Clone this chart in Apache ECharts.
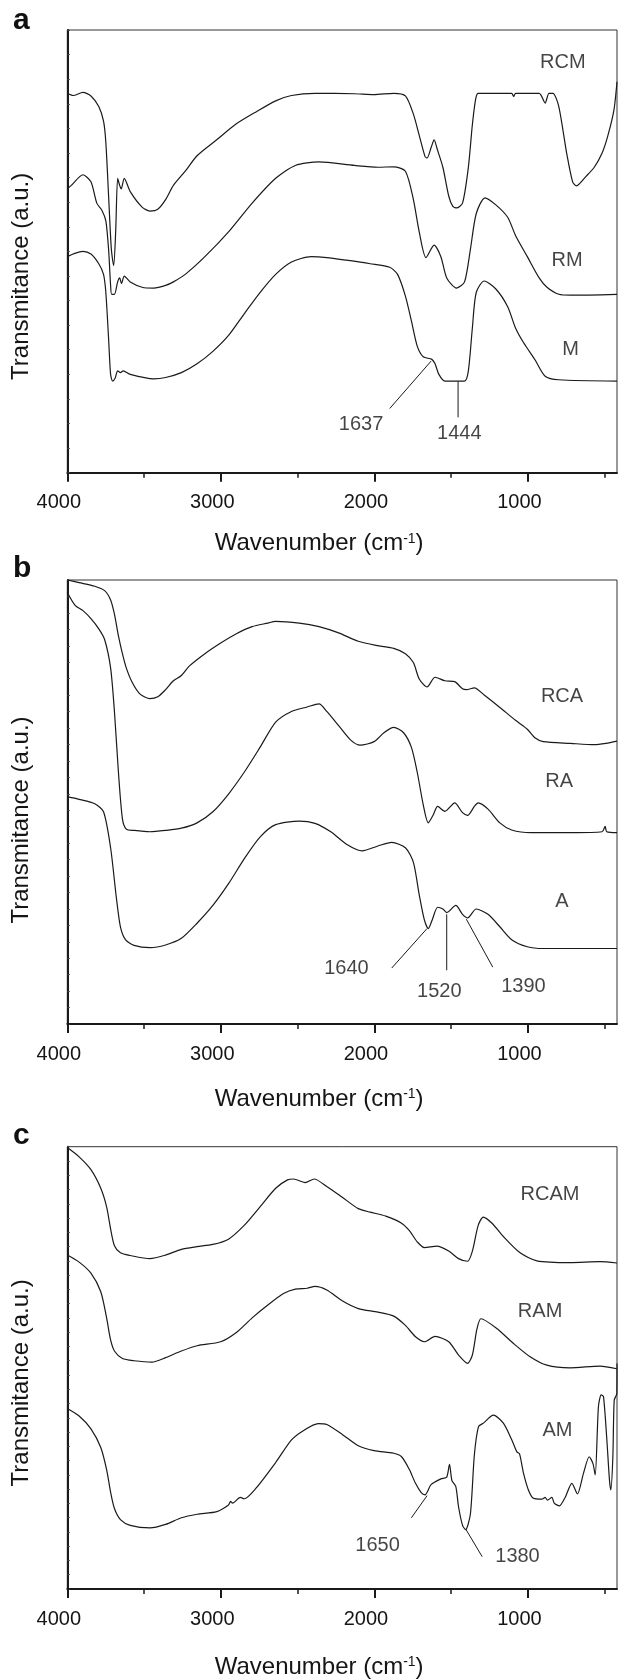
<!DOCTYPE html>
<html><head><meta charset="utf-8">
<script src="https://cdn.jsdelivr.net/npm/echarts@6/dist/echarts.min.js"></script>
<style>html,body{margin:0;padding:0;background:#fff}#c{width:619px;height:1680px}</style>
</head><body><div id="c"></div><script>
const FONT = '"Liberation Sans", Arial, Helvetica, sans-serif';
const xMajorTicks = [1000, 2000, 3000, 4000];
const xMinorTicks = [500, 1500, 2500, 3500];
const xMin = 420, xMax = 4000;
const panelLetters = ['a', 'b', 'c'];
const xTitle = 'Wavenumber (cm{sup|-1})';
const yTitle = 'Transmitance (a.u.)';

// ---- panel a : [wavenumber, transmittance (a.u., 0-100 of frame)] ----
const RCM = [[4000,85.7],[3962,85.2],[3898,85.9],[3846,85.1],[3795,82.7],[3764,79.4],[3749,74.6],[3731,62.5],[3713,50.4],[3698,46.8],[3685,54.4],[3672,66.5],[3659,64.9],[3649,64.1],[3629,66.5],[3590,63.5],[3513,60.0],[3462,59.1],[3411,59.5],[3360,61.7],[3309,64.9],[3232,68.1],[3155,71.6],[3027,75.2],[2899,78.8],[2771,81.5],[2643,84.0],[2540,85.2],[2387,85.7],[2130,85.6],[2002,85.4],[1874,85.7],[1798,85.1],[1746,81.0],[1708,76.2],[1670,71.4],[1657,71.1],[1630,73.5],[1611,75.2],[1590,73.0],[1554,69.0],[1516,62.5],[1490,60.2],[1465,59.8],[1426,60.9],[1388,69.0],[1362,78.6],[1340,84.5],[1324,85.7],[1106,85.7],[1093,85.0],[1080,85.7],[927,85.7],[888,83.5],[863,85.7],[837,85.7],[799,82.7],[748,72.2],[709,65.7],[684,64.8],[620,67.0],[568,69.0],[517,72.2],[479,76.2],[440,81.9],[420,88.3]];
const RM = [[4000,64.1],[3974,64.9],[3898,67.3],[3846,65.7],[3808,60.9],[3775,59.3],[3749,56.9],[3731,50.4],[3718,42.3],[3711,40.3],[3693,40.3],[3672,43.1],[3659,44.0],[3647,42.7],[3629,44.4],[3590,43.1],[3513,41.9],[3437,41.7],[3360,42.3],[3309,43.1],[3232,44.8],[3104,48.8],[2950,54.4],[2796,60.9],[2643,66.5],[2515,69.4],[2361,70.2],[2130,69.4],[1977,69.0],[1874,69.1],[1798,68.1],[1746,61.7],[1708,54.4],[1664,48.6],[1611,51.4],[1567,48.8],[1529,44.0],[1465,41.7],[1413,43.1],[1375,50.4],[1337,58.5],[1280,62.1],[1209,60.5],[1132,57.7],[1081,53.6],[1004,48.8],[927,44.0],[876,41.9],[799,40.3],[722,40.1],[420,40.3]];
const M = [[4000,48.8],[3962,49.4],[3898,50.0],[3846,49.4],[3795,47.2],[3764,44.8],[3749,40.7],[3731,30.2],[3718,22.2],[3705,20.7],[3688,21.4],[3672,23.0],[3654,22.6],[3636,23.0],[3590,22.2],[3437,21.2],[3360,21.5],[3257,22.6],[3155,24.6],[3052,27.4],[2950,31.0],[2848,35.9],[2745,40.7],[2643,44.8],[2540,47.6],[2412,48.8],[2310,48.6],[2182,48.0],[2028,47.2],[1900,46.4],[1849,44.8],[1798,39.9],[1759,34.3],[1721,28.6],[1682,26.2],[1626,25.6],[1605,24.6],[1580,22.2],[1541,20.7],[1413,20.7],[1388,23.0],[1362,32.7],[1337,40.7],[1285,43.3],[1209,41.5],[1132,37.5],[1081,32.7],[1029,29.4],[952,25.4],[888,21.8],[799,21.0],[420,20.7]];
const namesA = [[773,92.7,'RCM'],[745,48.0,'RM'],[722,27.8,'M']];
const peaksA = [[2087,11.0,'1637'],[1447,8.9,'1444']];
const leadersA = [[[1900,14.5],[1631,25.2]],[[1455,20.6],[1455,12.5]]];

// ---- panel b ----
const RCA = [[4000,100],[3923,99.4],[3821,98.6],[3757,97.6],[3718,95.5],[3693,92.3],[3667,87.4],[3641,83.4],[3616,80.2],[3577,76.9],[3526,74.3],[3462,73.3],[3411,73.7],[3360,75.3],[3309,77.3],[3257,78.5],[3206,80.6],[3104,83.4],[3001,85.8],[2899,87.9],[2796,89.5],[2694,90.3],[2643,90.7],[2489,90.3],[2361,89.5],[2233,88.1],[2105,86.2],[1977,85.2],[1874,84.6],[1798,83.4],[1746,81.4],[1708,77.7],[1657,75.9],[1605,78.1],[1541,77.3],[1477,77.1],[1426,75.5],[1401,75.3],[1349,75.7],[1285,74.1],[1183,71.3],[1081,68.4],[1004,66.4],[952,64.4],[901,63.6],[722,63.2],[568,62.9],[492,63.2],[420,63.7]];
const RA = [[4000,97.2],[3949,94.3],[3898,93.1],[3846,91.3],[3795,89.0],[3757,86.6],[3718,80.2],[3693,70.4],[3667,56.7],[3641,46.2],[3616,43.9],[3565,43.6],[3462,43.3],[3360,43.6],[3257,44.1],[3155,45.3],[3052,47.8],[2950,51.8],[2848,56.7],[2745,62.3],[2643,68.0],[2540,70.4],[2438,71.4],[2361,72.1],[2310,70.4],[2233,67.2],[2156,64.0],[2092,62.8],[2002,63.6],[1938,65.6],[1874,66.8],[1810,65.6],[1759,62.3],[1721,56.7],[1682,49.4],[1649,45.3],[1618,47.0],[1588,49.0],[1541,47.9],[1477,49.8],[1426,47.6],[1393,47.0],[1349,49.0],[1324,49.8],[1260,48.4],[1183,45.3],[1106,43.7],[978,43.1],[722,43.1],[517,43.3],[497,44.5],[487,43.3],[420,43.1]];
const A = [[4000,51.2],[3923,50.6],[3821,49.6],[3764,47.8],[3718,39.7],[3680,28.3],[3654,21.9],[3621,19.0],[3565,17.7],[3462,17.2],[3360,17.8],[3257,19.3],[3155,22.7],[3052,26.7],[2950,31.6],[2848,37.2],[2745,42.1],[2643,44.9],[2489,45.7],[2387,45.2],[2284,43.3],[2182,40.5],[2079,39.0],[1977,40.1],[1887,40.9],[1798,39.7],[1746,36.4],[1708,29.1],[1675,23.5],[1649,21.5],[1623,23.5],[1588,26.3],[1554,25.9],[1529,25.1],[1470,26.7],[1426,24.7],[1393,23.9],[1337,25.9],[1260,24.7],[1183,21.9],[1106,19.0],[1004,17.4],[901,17.0],[420,17.0]];
const namesB = [[778,73.7,'RCA'],[796,54.7,'RA'],[778,27.5,'A']];
const peaksB = [[2182,12.6,'1640'],[1577,7.3,'1520'],[1029,8.5,'1390']];
const leadersB = [[[1887,12.6],[1657,21.5]],[[1529,24.7],[1529,12.1]],[[1401,23.6],[1229,12.8]]];

// ---- panel c ----
const RCAM = [[4000,99.8],[3923,97.7],[3846,94.8],[3782,90.6],[3744,86.4],[3718,81.4],[3693,77.6],[3654,76.0],[3590,75.4],[3462,74.7],[3360,75.5],[3257,76.8],[3155,77.4],[3052,77.9],[2950,79.1],[2848,82.2],[2745,86.4],[2643,90.6],[2566,92.5],[2527,92.7],[2451,91.9],[2392,92.7],[2310,91.0],[2207,88.5],[2105,86.0],[2028,85.2],[1926,84.3],[1823,82.7],[1772,81.0],[1721,78.5],[1675,77.2],[1593,77.5],[1516,76.4],[1452,74.7],[1393,74.1],[1362,76.4],[1324,82.2],[1291,84.1],[1234,82.7],[1160,79.7],[1051,76.0],[942,74.2],[725,73.8],[530,74.0],[420,73.7]];
const RAM = [[4000,75.5],[3923,73.9],[3846,71.4],[3782,67.2],[3744,61.3],[3718,56.3],[3693,53.8],[3641,52.1],[3565,51.6],[3449,51.3],[3360,52.3],[3257,53.8],[3155,55.0],[3001,55.9],[2899,58.0],[2796,61.3],[2694,64.2],[2592,66.8],[2515,67.8],[2438,68.0],[2387,68.4],[2310,67.6],[2207,65.1],[2105,63.4],[1977,62.6],[1874,61.7],[1798,59.6],[1734,57.1],[1675,55.9],[1605,57.1],[1516,55.9],[1452,52.9],[1393,51.0],[1362,52.9],[1332,58.8],[1306,61.1],[1203,58.9],[1094,55.5],[986,52.5],[877,50.6],[725,50.0],[530,50.4],[421,49.8]];
const AM = [[4000,40.8],[3923,39.1],[3846,36.2],[3782,32.0],[3744,27.0],[3718,21.9],[3693,18.2],[3654,15.7],[3590,14.4],[3462,13.8],[3360,14.6],[3257,16.1],[3155,16.9],[3027,17.5],[2950,19.0],[2937,19.8],[2924,19.4],[2873,20.7],[2848,20.4],[2771,22.8],[2643,28.6],[2540,33.7],[2463,35.8],[2366,37.4],[2310,37.2],[2207,34.9],[2105,32.4],[2002,31.3],[1874,30.7],[1823,29.9],[1772,27.0],[1734,24.0],[1695,21.8],[1670,21.3],[1631,23.6],[1567,24.9],[1529,25.3],[1511,28.2],[1495,24.5],[1470,23.2],[1452,18.6],[1426,14.4],[1406,13.4],[1375,16.9],[1349,30.3],[1322,36.7],[1290,37.5],[1225,39.3],[1160,37.5],[1105,33.7],[1072,31.0],[1055,30.6],[1029,26.2],[997,22.4],[964,20.5],[909,20.3],[888,20.7],[873,20.1],[844,20.7],[829,19.4],[795,18.8],[758,20.7],[714,23.9],[678,21.5],[638,26.2],[601,29.9],[577,28.4],[562,25.8],[541,41.2],[523,43.9],[508,43.5],[486,33.7],[469,24.6],[460,22.4],[447,29.9],[438,42.7],[421,44.2],[420,51.0]];
const namesC = [[856,89.1,'RCAM'],[921,62.7,'RAM'],[808,35.9,'AM']];
const peaksC = [[1979,9.8,'1650'],[1068,7.3,'1380']];
const leadersC = [[[1759,16.1],[1657,21.1]],[[1406,13.6],[1298,7.3]]];

const panels = [
  {top: 30, height: 442.7, ticks: 18, curves: [RCM, RM, M], names: namesA, peaks: peaksA, leaders: leadersA, gap: 59, yShift: 25, letterTop: 6},
  {top: 580, height: 444, ticks: 27, curves: [RCA, RA, A], names: namesB, peaks: peaksB, leaders: leadersB, gap: 63, yShift: 18, letterTop: 554},
  {top: 1146.7, height: 442.3, ticks: 31, curves: [RCAM, RAM, AM], names: namesC, peaks: peaksC, leaders: leadersC, gap: 66, yShift: 15, letterTop: 1121}
];

const INK = '#1a1a1a';
const TXT = '#151515';
const grid = [], xAxis = [], yAxis = [], series = [], graphic = [];
panels.forEach((p, i) => {
  grid.push({left: 67.3, right: 2, top: p.top, height: p.height, show: true, borderColor: '#333', borderWidth: 1, backgroundColor: 'transparent'});
  xAxis.push({
    gridIndex: i, type: 'value', min: xMin, max: xMax, inverse: true, position: 'bottom',
    axisLine: {show: true, onZero: false, lineStyle: {color: INK, width: 2}},
    axisTick: {show: true, inside: false, length: 9, customValues: xMajorTicks, lineStyle: {color: INK, width: 2}},
    axisLabel: {show: true, customValues: xMajorTicks, formatter: v => String(v), margin: 20, fontSize: 20, color: TXT, fontFamily: FONT, padding: [0, 17, 0, 0]},
    splitLine: {show: false},
    name: xTitle, nameLocation: 'middle', nameGap: p.gap,
    nameTextStyle: {fontSize: 24, color: TXT, fontFamily: FONT, padding: [0, 46, 0, 0],
      rich: {sup: {fontSize: 14, color: TXT, fontFamily: FONT, verticalAlign: 'top'}}}
  });
  xAxis.push({
    gridIndex: i, type: 'value', min: xMin, max: xMax, inverse: true, position: 'bottom',
    axisLine: {show: false},
    axisTick: {show: true, inside: false, length: 5, customValues: xMinorTicks, lineStyle: {color: INK, width: 1.5}},
    axisLabel: {show: false}, splitLine: {show: false}
  });
  yAxis.push({
    gridIndex: i, type: 'value', min: 0, max: 100, interval: 100 / p.ticks,
    axisLine: {show: true, lineStyle: {color: INK, width: 2}},
    axisTick: {show: true, inside: true, length: 2.5, lineStyle: {color: '#444', width: 1}},
    axisLabel: {show: false}, splitLine: {show: false},
    name: yTitle, nameLocation: 'middle', nameGap: 34,
    nameTextStyle: {fontSize: 24, color: TXT, fontFamily: FONT, padding: [0, 2 * p.yShift, 0, 0]}
  });
  p.curves.forEach(d => series.push({
    type: 'line', xAxisIndex: 2 * i, yAxisIndex: i, data: d, showSymbol: false, smooth: 0.25,
    lineStyle: {color: INK, width: 1.2}, silent: true
  }));
  p.leaders.forEach(d => series.push({
    type: 'line', xAxisIndex: 2 * i, yAxisIndex: i, data: d, showSymbol: false,
    lineStyle: {color: INK, width: 1}, silent: true
  }));
  series.push({
    type: 'scatter', xAxisIndex: 2 * i, yAxisIndex: i, symbolSize: 1, itemStyle: {color: 'rgba(0,0,0,0)'},
    data: p.names.concat(p.peaks), silent: true,
    label: {show: true, position: 'inside', formatter: q => q.value[2], fontSize: 20, color: TXT, fontFamily: FONT}
  });
  graphic.push({type: 'text', left: 13, top: p.letterTop, style: {text: panelLetters[i], font: 'bold 30px ' + FONT, fill: '#111'}});
});

const chart = echarts.init(document.getElementById('c'), null, {renderer: 'canvas'});
chart.setOption({animation: false, backgroundColor: '#fff', grid, xAxis, yAxis, series, graphic});
</script></body></html>
